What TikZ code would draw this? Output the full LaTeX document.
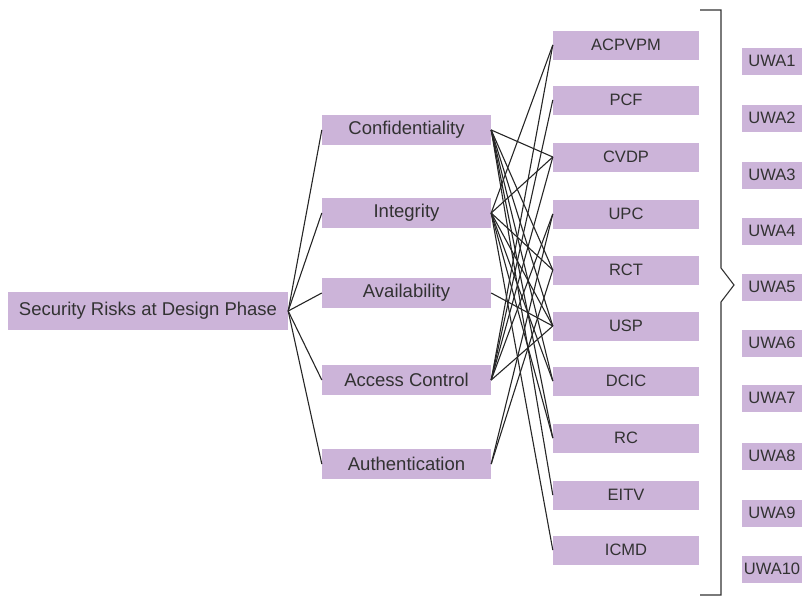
\documentclass[tikz,border=0pt]{standalone}
\usepackage{fontspec}
\setmainfont{Liberation Sans}
\definecolor{boxfill}{RGB}{204,180,217}
\definecolor{txt}{RGB}{50,50,50}
\begin{document}
\begin{tikzpicture}[x=1pt,y=-1pt,
  box/.style={fill=boxfill,draw=none,text=txt,inner sep=0pt,anchor=center},
  mainbox/.style={box,minimum width=280pt,minimum height=38pt,font=\fontsize{18.5}{22}\selectfont},
  midbox/.style={box,minimum width=169pt,minimum height=30pt,font=\fontsize{18.5}{22}\selectfont},
  riskbox/.style={box,minimum width=146pt,minimum height=29pt,font=\fontsize{16.5}{19}\selectfont},
  uwabox/.style={box,minimum width=60pt,minimum height=27pt,font=\fontsize{16.5}{19}\selectfont},
  link/.style={draw=black!85,line width=1.1pt}]
\useasboundingbox (0,0) rectangle (807,597);
\node[mainbox] (main) at (148,311) {Security Risks at Design Phase};
\node[midbox] (conf) at (406.5,130) {Confidentiality};
\node[midbox] (integ) at (406.5,213) {Integrity};
\node[midbox] (avail) at (406.5,293) {Availability};
\node[midbox] (acc) at (406.5,380) {Access Control};
\node[midbox] (auth) at (406.5,464) {Authentication};
\foreach \n/\t/\y in {r1/ACPVPM/45, r2/PCF/100, r3/CVDP/157, r4/UPC/214, r5/RCT/270, r6/USP/326, r7/DCIC/381, r8/RC/438, r9/EITV/495, r10/ICMD/550}
  \node[riskbox] (\n) at (626,\y) {\t};
\foreach \i/\y in {1/61, 2/118, 3/175, 4/231, 5/287, 6/343, 7/398, 8/456, 9/513, 10/569}
  \node[uwabox] (u\i) at (772,\y) {UWA\i};
\foreach \m in {conf,integ,avail,acc,auth}
  \draw[link] (main.east) -- (\m.west);
\foreach \r in {r3,r5,r6,r7,r8,r9}
  \draw[link] (conf.east) -- (\r.west);
\foreach \r in {r1,r3,r5,r6,r7,r8,r10}
  \draw[link] (integ.east) -- (\r.west);
\draw[link] (avail.east) -- (r6.west);
\foreach \r in {r1,r2,r3,r4,r6}
  \draw[link] (acc.east) -- (\r.west);
\foreach \r in {r4,r5}
  \draw[link] (auth.east) -- (\r.west);
\coordinate (bt) at (700,10);
\coordinate (bb) at (700,595);
\coordinate (tip) at (734,285);
\draw[draw=black!80,line width=1.1pt] (bt) -- (721,10) -- (721,268) -- (tip) -- (721,302) -- (721,595) -- (bb);
\end{tikzpicture}
\end{document}
